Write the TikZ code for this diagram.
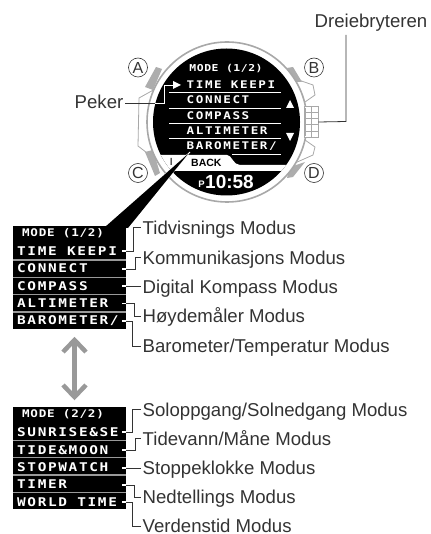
\documentclass[tikz,border=0pt]{standalone}
\usepackage{fontspec}
\setmainfont{Liberation Sans}
\newfontfamily\lcdP[FakeStretch=1.2,LetterSpace=13.6]{DejaVu Sans Mono}
\newfontfamily\lcdH[FakeStretch=1.2,LetterSpace=7]{DejaVu Sans Mono}
\newfontfamily\lcdS[FakeStretch=1.2,LetterSpace=15]{DejaVu Sans Mono}
\newfontfamily\lcdT[FakeStretch=1.2,LetterSpace=6]{DejaVu Sans Mono}
\definecolor{guard}{gray}{0.68}
\definecolor{caseline}{gray}{0.66}
\definecolor{sep}{gray}{0.6}
\definecolor{ink}{gray}{0.2}
\tikzset{
  lab/.style={anchor=base west,inner sep=0pt,font=\fontsize{18.6}{20}\selectfont,text=ink},
  scr/.style={anchor=west,inner sep=0pt,text=white,font=\lcdS\bfseries\fontsize{10.5}{11}\selectfont},
  scrh/.style={anchor=center,inner sep=0pt,text=white,font=\lcdT\bfseries\fontsize{9.5}{10}\selectfont},
  pan/.style={anchor=west,inner sep=0pt,text=white,font=\lcdP\bfseries\fontsize{12}{13}\selectfont},
  panh/.style={anchor=center,inner sep=0pt,text=white,font=\lcdH\bfseries\fontsize{10.5}{11}\selectfont},
  lead/.style={draw=ink,line width=0.8pt},
  btn/.style={circle,draw=ink,line width=0.6pt,minimum size=19pt,inner sep=0pt,font=\fontsize{16}{16}\selectfont,text=ink},
}
\begin{document}
\begin{tikzpicture}[x=1pt,y=-1pt]
\useasboundingbox (0,0) rectangle (430,534);
% case outline
\draw[caseline,line width=0.8pt,line join=round] (157,88) -- (139,98) -- (138,146) -- (151,156);
\draw[caseline,line width=0.8pt,line join=round] (290,77) -- (313,85) -- (315,95) -- (305,102);
\draw[caseline,line width=0.8pt,line join=round] (305,140) -- (315,147) -- (313,155) -- (295,163);
% guards
\fill[guard] (156,67) -- (162,69) -- (153,90) -- (145,87) -- cycle;
\fill[guard] (287,68) -- (293,67) -- (302,82) -- (297,82) -- cycle;
\fill[guard] (145,152) -- (153,150) -- (160,173) -- (155,176) -- cycle;
\fill[guard] (290,167) -- (305,162) -- (293,177) -- (287,178) -- cycle;
% bezel and display
\node[circle,draw=caseline,line width=1.6pt,fill=white,minimum size=160pt,inner sep=0pt] (bezel) at (227,122) {};
\node[circle,fill=black,minimum size=147pt,inner sep=0pt] (disp) at (226.5,122) {};
% crown
\node[draw=caseline,fill=white,line width=0.7pt,minimum width=14pt,minimum height=31pt,inner sep=0pt] (crown) at (311,122) {};
\draw[caseline,line width=0.7pt] (304,112)--(318,112) (304,118)--(318,118) (304,124)--(318,124) (304,131)--(318,131) (311,106.5)--(311,137.5);
\draw[caseline,line width=1.8pt] (305,108)--(305,136);
% screen
\begin{scope}
\clip (226.5,122) circle (73.5);
\fill[white] (145,155) -- (227,155) .. controls (232,155) and (233,165) .. (240,165) -- (310,165) -- (310,171) -- (145,171) -- cycle;
\end{scope}
\foreach \yy in {92,108,123,138} \draw[white,line width=0.7pt] (169,\yy) -- (281,\yy);
\draw[white,line width=0.7pt] (232,154) -- (281,154);
\node[scrh] (s0) at (226,69) {MODE (1/2)};
\node[scr] (s1) at (186.5,85) {TIME KEEPI};
\node[scr] (s2) at (186.5,100) {CONNECT};
\node[scr] (s3) at (186.5,115.5) {COMPASS};
\node[scr] (s4) at (186.5,131) {ALTIMETER};
\node[scr] (s5) at (186.5,146) {BAROMETER/};
\fill[white] (290,100) -- (294,108) -- (286,108) -- cycle;
\fill[white] (290,141) -- (294,133) -- (286,133) -- cycle;
\node[anchor=west,inner sep=0pt,font=\bfseries\fontsize{10.5}{11}\selectfont] (back) at (191,162.5) {BACK};
\node[anchor=west,inner sep=0pt,text=white,font=\bfseries\fontsize{19}{19}\selectfont] (clock) at (205,181.5) {10:58};
\node[anchor=east,inner sep=0pt,text=white,font=\bfseries\fontsize{9.5}{10}\selectfont] (pm) at (205,184) {P};
% wedge
\draw[black,line width=1pt] (171,158) -- (171,165) (178,165) -- (184,158);
\fill[black,draw=white,line width=0.7pt] (190,152) -- (107,226) -- (126,229) -- cycle;
\fill[black] (188,154) -- (105,227) -- (128,228) -- cycle;
% panel 1
\fill[black] (13,226) rectangle (126,329);
\draw[sep,line width=1.2pt] (13,260) -- (126,260) (13,277.3) -- (126,277.3) (13,294.5) -- (126,294.5) (13,312) -- (126,312);
\node[panh] (p0) at (63,233.5) {MODE (1/2)};
\node[pan] (p1) at (17,251) {TIME KEEPI};
\node[pan] (p2) at (17,268.5) {CONNECT};
\node[pan] (p3) at (17,286) {COMPASS};
\node[pan] (p4) at (17,303.5) {ALTIMETER};
\node[pan] (p5) at (17,321) {BAROMETER/};
% panel 2
\fill[black] (13,407) rectangle (126,509);
\draw[sep,line width=1.2pt] (13,440.3) -- (126,440.3) (13,457.5) -- (126,457.5) (13,475) -- (126,475) (13,492.3) -- (126,492.3);
\node[panh] (q0) at (63,414.5) {MODE (2/2)};
\node[pan] (q1) at (17,432) {SUNRISE\&SE};
\node[pan] (q2) at (17,450) {TIDE\&MOON};
\node[pan] (q3) at (17,467.5) {STOPWATCH};
\node[pan] (q4) at (17,484.5) {TIMER};
\node[pan] (q5) at (17,502) {WORLD TIME};
% double arrow
\coordinate (aT) at (74.5,340);
\coordinate (aB) at (74.5,397);
\draw[sep,line width=4.5pt] (aT) -- (aB);
\draw[sep,line width=4.5pt,line join=miter] (63,352) -- (aT) -- (86,352);
\draw[sep,line width=4.5pt,line join=miter] (63,385) -- (aB) -- (86,385);
% labels
\node[lab] (l1) at (142.5,234) {Tidvisnings Modus};
\node[lab] (l2) at (142.5,264) {Kommunikasjons Modus};
\node[lab] (l3) at (142.5,293) {Digital Kompass Modus};
\node[lab] (l4) at (142.5,322) {Høydemåler Modus};
\node[lab] (l5) at (142.5,352) {Barometer/Temperatur Modus};
\node[lab] (m1) at (142.5,416) {Soloppgang/Solnedgang Modus};
\node[lab] (m2) at (142.5,445) {Tidevann/Måne Modus};
\node[lab] (m3) at (142.5,474) {Stoppeklokke Modus};
\node[lab] (m4) at (142.5,503) {Nedtellings Modus};
\node[lab] (m5) at (142.5,532) {Verdenstid Modus};
\node[lab,anchor=base east] (peker) at (123.5,109) {Peker};
\node[lab,anchor=center] (dreie) at (371,23) {Dreiebryteren};
% connectors
\foreach \yy in {251,269,286,303.5,321,432,450,468,485,502}{
  \draw[white,line width=1.2pt] (122,\yy) -- (126,\yy);
}
\coordinate (e1) at (141,227);
\coordinate (e2) at (141,257);
\coordinate (e3) at (141,286);
\coordinate (e4) at (141,316.5);
\coordinate (e5) at (141,346);
\coordinate (f1) at (141,409);
\coordinate (f2) at (141,438);
\coordinate (f3) at (141,468);
\coordinate (f4) at (141,497);
\coordinate (f5) at (141,526);
\draw[lead] (126,251) -- (133,251) |- (e1);
\draw[lead] (126,269) -- (135,269) |- (e2);
\draw[lead] (126,286) -- (e3);
\draw[lead] (126,303.5) -- (134,303.5) |- (e4);
\draw[lead] (126,321) -- (132,321) |- (e5);
\draw[lead] (126,432) -- (132,432) |- (f1);
\draw[lead] (126,450) -- (135,450) |- (f2);
\draw[lead] (126,468) -- (f3);
\draw[lead] (126,485) -- (134,485) |- (f4);
\draw[lead] (126,502) -- (132,502) |- (f5);
% crown leader
\draw[lead] (346,35) -- (346,121.5) -- (crown.east);
% pointer
\draw[ink,line width=0.8pt] (125,103) -- (155,103);
\draw[white,line width=0.8pt] (155,103) -- (164,103) -- (164,85) -- (174,85);
\fill[white] (181,85) -- (173,81) -- (173,89) -- cycle;
% buttons
\node[btn] (A) at (138,67.5) {A};
\node[btn] (B) at (314,67.5) {B};
\node[btn] (C) at (138,173) {C};
\node[btn] (D) at (314,173) {D};
\end{tikzpicture}
\end{document}
